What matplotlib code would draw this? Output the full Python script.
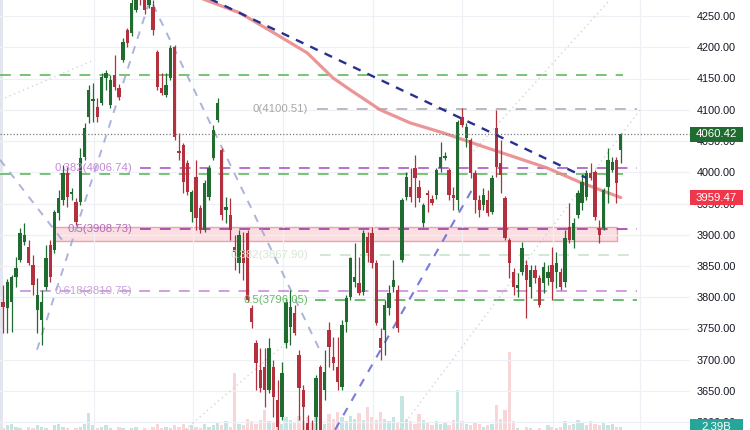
import numpy as np
import matplotlib
matplotlib.use("Agg")
import matplotlib.pyplot as plt
import matplotlib.transforms as mtransforms
from matplotlib.patches import Rectangle

# ---------------- data (daily candles) ----------------
opens = [3792, 3783, 3792, 3832, 3860, 3888, 3880, 3852, 3780, 3764,
         3816, 3884, 3876, 3935, 3956, 3999, 3965, 3952, 3952, 4024,
         4088, 4114, 4104, 4111, 4151, 4108, 4156, 4135, 4180, 4228,
         4223, 4260, 4285, 4280, 4268, 4264, 4192, 4135, 4124, 4151,
         4200, 4034, 4044, 4015, 3936, 3992, 3943, 3908, 3960, 4023,
         4084, 4036, 3940, 3932, 3880, 3855, 3876, 3903, 3783, 3727,
         3684, 3688, 3652, 3688, 3636, 3608, 3727, 3752, 3775, 3708,
         3652, 3599, 3588, 3608, 3688, 3652, 3748, 3704, 3688, 3656,
         3760, 3800, 3824, 3823, 3808, 3896, 3903, 3855, 3735, 3748,
         3783, 3816, 3812, 3860, 3960, 3976, 4007, 3976, 3919, 3967,
         3957, 3964, 4007, 4023, 4004, 3964, 3956, 4088, 4055, 4052,
         3999, 3956, 3948, 3956, 3936, 4071, 4015, 3959, 3892, 3840,
         3815, 3840, 3852, 3816, 3844, 3831, 3823, 3831, 3852, 3840,
         3840, 3824, 3912, 3892, 3932, 3951, 3960, 3999, 4000, 3911,
         3911, 3976, 4004, 4020, 4036]
highs = [3820, 3829, 3836, 3864, 3911, 3919, 3892, 3868, 3831, 3812,
         3884, 3892, 3940, 3972, 4012, 4008, 3975, 3959, 4039, 4079,
         4140, 4143, 4119, 4159, 4164, 4156, 4188, 4141, 4215, 4231,
         4288, 4295, 4298, 4288, 4292, 4276, 4196, 4159, 4159, 4204,
         4204, 4063, 4047, 4020, 3972, 4020, 3948, 3988, 4012, 4076,
         4119, 4039, 3960, 3959, 3900, 3908, 3904, 3908, 3788, 3732,
         3719, 3719, 3735, 3700, 3668, 3696, 3799, 3812, 3788, 3716,
         3660, 3612, 3604, 3676, 3692, 3716, 3760, 3736, 3736, 3764,
         3804, 3864, 3887, 3864, 3908, 3904, 3912, 3860, 3751, 3796,
         3820, 3860, 3820, 3959, 4000, 4007, 4028, 3988, 3951, 3972,
         3964, 4007, 4048, 4032, 4007, 3976, 4084, 4103, 4079, 4055,
         4004, 3964, 3975, 3972, 3996, 4100, 4052, 3962, 3895, 3847,
         3839, 3888, 3860, 3852, 3852, 3836, 3856, 3852, 3880, 3872,
         3847, 3908, 3951, 3927, 3972, 3996, 4004, 4015, 4004, 3924,
         3975, 4039, 4024, 4024, 4063]
lows = [3743, 3743, 3744, 3816, 3856, 3884, 3852, 3804, 3743, 3724,
        3812, 3824, 3871, 3924, 3948, 3944, 3956, 3916, 3948, 4020,
        4079, 4080, 4080, 4108, 4132, 4103, 4132, 4116, 4176, 4200,
        4218, 4256, 4268, 4253, 4263, 4220, 4132, 4124, 4120, 4148,
        4052, 4020, 3967, 3964, 3920, 3908, 3903, 3904, 3956, 4020,
        4080, 3924, 3919, 3892, 3844, 3839, 3828, 3792, 3751, 3652,
        3648, 3624, 3647, 3608, 3580, 3604, 3719, 3724, 3740, 3604,
        3588, 3564, 3556, 3572, 3572, 3636, 3688, 3684, 3652, 3652,
        3744, 3796, 3816, 3804, 3804, 3856, 3847, 3756, 3700, 3708,
        3772, 3808, 3744, 3856, 3956, 3952, 3944, 3952, 3912, 3936,
        3948, 3957, 4000, 4020, 3956, 3940, 3940, 4072, 4040, 3991,
        3935, 3928, 3940, 3930, 3933, 3992, 3967, 3892, 3831, 3804,
        3800, 3836, 3767, 3799, 3823, 3784, 3807, 3820, 3796, 3815,
        3812, 3816, 3887, 3879, 3927, 3940, 3956, 3988, 3924, 3887,
        3908, 3951, 4000, 3951, 4015]
closes = [3784, 3824, 3832, 3847, 3903, 3900, 3855, 3820, 3804, 3792,
          3863, 3832, 3936, 3959, 3999, 3960, 3968, 3920, 4023, 4071,
          4132, 4117, 4088, 4152, 4159, 4148, 4136, 4120, 4208, 4207,
          4271, 4284, 4276, 4260, 4282, 4228, 4136, 4127, 4140, 4199,
          4056, 4031, 3984, 3968, 3968, 3927, 3908, 3983, 4007, 4068,
          4111, 3932, 3944, 3908, 3872, 3900, 3855, 3796, 3760, 3695,
          3655, 3652, 3719, 3640, 3592, 3679, 3792, 3784, 3743, 3655,
          3624, 3572, 3564, 3671, 3588, 3680, 3720, 3695, 3664, 3756,
          3799, 3863, 3832, 3807, 3903, 3871, 3855, 3759, 3719, 3788,
          3807, 3828, 3751, 3956, 3992, 3960, 3991, 3959, 3948, 3964,
          3951, 4004, 4024, 4026, 3964, 3959, 4080, 4076, 4072, 3999,
          3956, 3940, 3964, 3935, 3991, 4008, 3996, 3895, 3855, 3816,
          3820, 3879, 3828, 3844, 3831, 3788, 3848, 3840, 3824, 3855,
          3816, 3895, 3892, 3919, 3967, 3984, 3999, 3991, 3928, 3900,
          3972, 4020, 4016, 3983, 4060.42]
# volume in billions
volumes = [2.3, 2.5, 2.6, 2.4, 2.3, 2.2, 2.4, 2.3, 2.5, 2.4,
           2.3, 2.2, 2.5, 2.6, 2.4, 2.3, 2.2, 2.3, 2.4, 2.6,
           3.4, 2.5, 2.3, 2.4, 2.5, 2.3, 2.2, 2.4, 2.3, 2.2,
           2.3, 2.4, 2.2, 2.3, 2.1, 2.4, 2.6, 2.3, 2.4, 2.3,
           2.5, 2.4, 2.6, 2.3, 2.5, 2.4, 2.3, 2.6, 2.4, 2.5,
           2.7, 2.5, 2.8, 2.4, 6.3, 2.6, 2.5, 3.0, 2.8, 2.6,
           2.9, 3.6, 2.8, 2.7, 3.0, 2.6, 3.1, 2.9, 2.7, 3.2,
           2.8, 3.1, 2.7, 3.3, 2.9, 2.6, 3.3, 3.0, 3.5, 3.1,
           2.8, 3.2, 3.0, 3.4, 2.9, 3.8, 3.1, 2.9, 3.5, 3.0,
           2.8, 3.1, 2.7, 4.6, 3.0, 2.8, 2.6, 3.3, 2.9, 2.7,
           2.5, 2.8, 2.6, 2.7, 2.5, 2.9, 5.1, 2.8, 2.6, 2.5,
           2.7, 2.6, 2.4, 2.5, 2.6, 4.0, 3.0, 3.6, 7.8, 2.8,
           2.3, 2.2, 2.4, 2.3, 2.2, 2.3, 2.1, 2.5, 2.4, 2.3,
           2.4, 2.8, 2.5, 2.6, 2.9, 2.7, 2.5, 2.8, 2.6, 2.5,
           2.7, 2.5, 2.6, 2.4, 2.39]

# moving average (sampled along the drawn curve): bar index, value
ma_idx = [45.9, 47.1, 55.2, 62.9, 70.9, 76.9, 80.9, 84.4, 87.9, 94.9,
          102.6, 112.4, 115.9, 126.8, 134.5, 144.0]
ma_val = [4279, 4276, 4255, 4224, 4191, 4151, 4132, 4116, 4100, 4079,
          4063, 4040, 4032, 4007, 3984, 3959.47]

# descending trendline
trend_idx = [45.0, 136.0]
trend_val = [4288, 3991]

# Fibonacci / horizontal levels
fib_levels = [4100.51, 4006.74, 3908.73, 3867.90, 3810.75, 3796.05]
fib_labels = ["0(4100.51)", "0.382(4006.74)", "0.5(3908.73)", "0.382(3867.90)",
              "0.618(3810.75)", "0.5(3796.05)"]
green_levels = [4155, 3998]
zone_low, zone_high = 3890, 3913
last_price = 4060.42
ma_last = 3959.47
last_volume_label = "2.39B"

# swing (zig-zag) dashed lines: (idx0, val0, idx1, val1)
swing_lines = [(-0.7, 4020, 13.75, 3892),
               (7.93, 3716, 34.27, 4276),
               (34.97, 4268, 74.36, 3708)]
swing_blue = (77.4, 3588, 110.0, 3980)
faint_lines = [(42.4, 3588, 66.9, 3732),
               (92.5, 3588, 148.5, 4100),
               (108.9, 4028, 141.5, 4276),
               (0.47, 4119, 21.4, 4180)]

price_ticks = list(range(3600, 4251, 50))
grid_idx = [21.2, 44.3, 65.3, 86.2, 107.0, 128.2, 148.5]

# ---------------- figure ----------------
W, H = 750, 430
PLOT_W = 690
PX0, PX_STEP = 3.0, 4.29  # pixel position of first candle, spacing

fig = plt.figure(figsize=(W / 100, H / 100), dpi=100)
fig.patch.set_facecolor("white")
ax = fig.add_axes([0, 0, PLOT_W / W, 1])
axv = ax.twinx()

idx = np.arange(len(opens))
o = np.array(opens, float); c = np.array(closes, float)
h = np.array(highs, float); l = np.array(lows, float)
up = c >= o

GREEN = "#1f6b30"
RED = "#b3313f"

xmin = (0 - PX0) / PX_STEP
xmax = (PLOT_W - PX0) / PX_STEP
ax.set_xlim(xmin, xmax)
ax.set_ylim(3587.6, 4275.6)

# volume pane (baseline lies below the visible area)
axv.set_ylim(2.17, 33.3)
vcol = ["#7cc7bd" if u else "#f1a5a8" for u in up]
axv.bar(idx, volumes, width=0.78, color=vcol, alpha=0.45, linewidth=0)
axv.set_yticks([])
for s in axv.spines.values():
    s.set_visible(False)
ax.set_zorder(axv.get_zorder() + 1)
ax.patch.set_visible(False)

# grid
ax.set_yticks(price_ticks)
ax.set_xticks(grid_idx)
ax.grid(True, color="#eef0f5", linewidth=0.9, zorder=0)
ax.tick_params(axis="x", length=0, labelbottom=False)
ax.yaxis.tick_right()
ax.tick_params(axis="y", length=0, pad=5, labelsize=7.8, labelcolor="#131722")
ax.set_yticklabels([f"{v:.2f}" for v in price_ticks], fontfamily="Liberation Sans")
for s in ax.spines.values():
    s.set_visible(False)

def px2i(x):
    return (x - PX0) / PX_STEP

# supply/demand zone
ax.add_patch(Rectangle((px2i(54), zone_low), px2i(617) - px2i(54), zone_high - zone_low,
                       facecolor="#f7c9ce", alpha=0.6, edgecolor="#e0707c", linewidth=1.0, zorder=1))

# green horizontal levels
for lv in green_levels:
    ax.plot([px2i(0), px2i(623)], [lv, lv], color="#5cb85c", lw=1.3, dashes=(6, 5), alpha=0.9, zorder=2)

# fib levels
fib_styles = [
    dict(color="#b4b4b4", start=317, lab_end=308, lab_col="#a8a8a8", alpha=1.0),
    dict(color="#a23fbb", start=140, lab_end=132, lab_col="#c48ad6", alpha=0.8),
    dict(color="#9c2f9e", start=140, lab_end=132, lab_col="#b46ab8", alpha=0.85),
    dict(color="#cfe6cf", start=320, lab_end=308, lab_col="#d3e8d3", alpha=1.0),
    dict(color="#b56ad0", start=20, lab_end=132, lab_col="#c8a2dc", alpha=0.7),
    dict(color="#4caf50", start=315, lab_end=308, lab_col="#66bb6a", alpha=0.9),
]
for lv, lab, st in zip(fib_levels, fib_labels, fib_styles):
    ax.plot([px2i(st["start"]), px2i(637)], [lv, lv], color=st["color"], lw=1.3,
            dashes=(6, 5), alpha=st["alpha"], zorder=2)
    ax.text(px2i(st["lab_end"]), lv, lab, ha="right", va="center", fontsize=8.2,
            color=st["lab_col"], fontfamily="Liberation Sans", zorder=6)

# swing lines
for (i0, v0, i1, v1) in swing_lines:
    ax.plot([i0, i1], [v0, v1], color="#9ea6d6", lw=1.4, dashes=(4, 4), alpha=0.85, zorder=2)
ax.plot([swing_blue[0], swing_blue[2]], [swing_blue[1], swing_blue[3]], color="#6c6cd8",
        lw=1.5, dashes=(4, 4), alpha=0.9, zorder=2)
for (i0, v0, i1, v1) in faint_lines:
    ax.plot([i0, i1], [v0, v1], color="#d0d0d0", lw=1.0, linestyle=(0, (1, 2.5)), alpha=0.9, zorder=2)

# moving average
ax.plot(ma_idx, ma_val, color="#ea8a8c", lw=2.3, alpha=0.9, solid_capstyle="round",
        solid_joinstyle="round", zorder=3)

# candles
col = np.where(up, GREEN, RED)
ax.vlines(idx, l, h, colors=col, linewidth=0.9, zorder=4)
body_lo = np.minimum(o, c)
body_h = np.maximum(np.abs(c - o), 1.3)
ax.bar(idx, body_h, bottom=body_lo, width=0.78, color=col, linewidth=0, zorder=4.5)

# trendline
ax.plot(trend_idx, trend_val, color="#27308f", lw=1.7, dashes=(3.5, 3.2), zorder=5)

# last price dotted line
ax.plot([xmin, xmax], [last_price, last_price], color="#7a7a7a", lw=0.9,
        linestyle=(0, (1, 1.6)), zorder=5)

# left strip
fig.add_artist(Rectangle((0, 0), 3 / W, 1, transform=fig.transFigure,
                         facecolor="#e3e6ee", edgecolor="none"))

# price scale labels (boxes)
BOX_X0, BOX_X1, BOX_HPX = 690 / W, 743 / W, 15
trans_p = mtransforms.blended_transform_factory(fig.transFigure, ax.transData)
trans_v = mtransforms.blended_transform_factory(fig.transFigure, axv.transData)
price_per_px = (4275.6 - 3587.6) / H
vol_per_px = (33.3 - 2.17) / H

def scale_box(val, text, color, trans, unit_per_px):
    hh = BOX_HPX * unit_per_px
    fig.add_artist(Rectangle((BOX_X0, val - hh / 2), BOX_X1 - BOX_X0, hh, transform=trans,
                             facecolor=color, edgecolor="none", zorder=20))
    fig.text((BOX_X0 + BOX_X1) / 2, val, text, transform=trans, ha="center", va="center",
             fontsize=8.2, color="white", fontfamily="Liberation Sans", zorder=21)

scale_box(last_price, f"{last_price:.2f}", "#1f6b30", trans_p, price_per_px)
scale_box(ma_last, f"{ma_last:.2f}", "#f0364a", trans_p, price_per_px)
scale_box(volumes[-1], last_volume_label, "#26a69a", trans_v, vol_per_px)

fig.savefig("out.png", dpi=100)
